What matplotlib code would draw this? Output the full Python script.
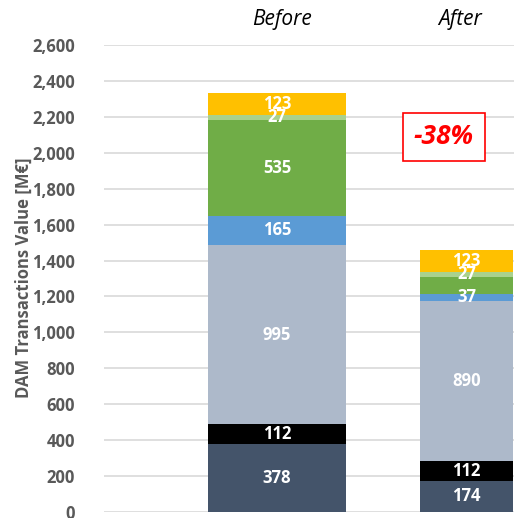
import numpy as np
import matplotlib
matplotlib.use("Agg")
import matplotlib.pyplot as plt

# ---- data ----
categories = ["Before", "After"]
seg_colors = ["#44546A", "#000000", "#ADB9CA", "#5B9BD5", "#70AD47", "#A9D18E", "#FFC000"]
before_vals = [378, 112, 995, 165, 535, 27, 123]
after_vals  = [174, 112, 890, 37, 96, 27, 123]
before_lbls = ["378", "112", "995", "165", "535", "27", "123"]
after_lbls  = ["174", "112", "890", "37", "", "27", "123"]
change_text = "-38%"

plt.rcParams["font.family"] = ["Open Sans", "DejaVu Sans"]
grey = "#595959"

fig = plt.figure(figsize=(5.14, 5.18), dpi=100)
ax = fig.add_axes([104/514, 6/518, 1 - 104/514, (512-45)/518])

x = np.arange(len(categories))
widths = [0.728, 0.491]  # the After bar is cut by the frame in the source
for xi, w, vals, lbls in [(x[0], widths[0], before_vals, before_lbls),
                          (x[1], widths[1], after_vals, after_lbls)]:
    bottom = 0
    for v, c, l in zip(vals, seg_colors, lbls):
        ax.bar(xi, v, w, bottom=bottom, color=c, zorder=2)
        if l:
            ax.text(xi, bottom + v/2, l, ha="center", va="center", color="white",
                    fontsize=12, fontweight="bold", zorder=3)
        bottom += v

ax.set_xlim(-0.913, 1.251)
ax.set_ylim(0, 2600)
ax.set_yticks(np.arange(0, 2601, 200))
ax.set_yticklabels([f"{v:,}" for v in range(0, 2601, 200)])
ax.tick_params(axis="y", length=0, pad=21, labelsize=12, labelcolor=grey)
for t in ax.get_yticklabels():
    t.set_fontweight("bold")
ax.set_xticks([])
ax.yaxis.grid(True, color="#D9D9D9", lw=1.2, zorder=0)
for s in ax.spines.values():
    s.set_visible(False)

fig.text(24/514, 1 - 278/518, "DAM Transactions Value [M€]", rotation=90, ha="center", va="center",
         color=grey, fontsize=12, fontweight="bold")

fig.text(282/514, 1 - 20/518, categories[0], ha="center", va="center", fontsize=15, style="italic")
fig.text(460/514, 1 - 20/518, categories[1], ha="center", va="center", fontsize=15, style="italic")

fig.text(444/514, 1 - 137/518, change_text, ha="center", va="center", color="#FF0000",
         fontsize=19, fontweight="bold", style="italic",
         bbox=dict(boxstyle="square,pad=0.4", fc="white", ec="#FF0000", lw=1.2))

fig.savefig("out.png", dpi=100)
